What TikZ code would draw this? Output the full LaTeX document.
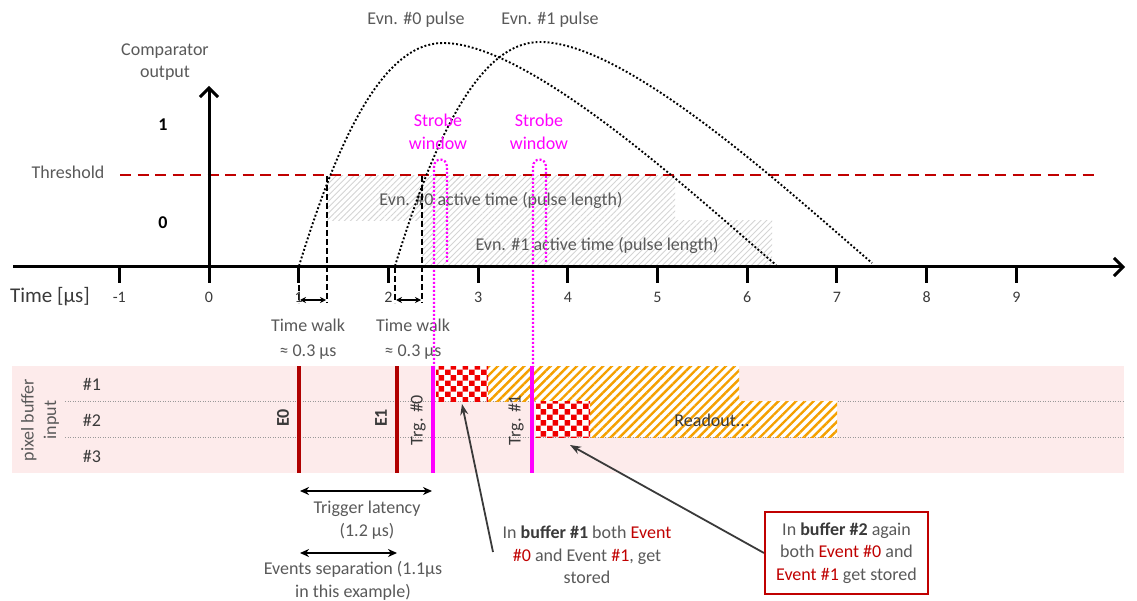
\documentclass[tikz,border=0pt]{standalone}
\usepackage{fontspec}
\setmainfont{Carlito}
\usetikzlibrary{arrows.meta,patterns.meta}

\definecolor{txt}{HTML}{595959}
\definecolor{darktxt}{HTML}{3A3A3A}
\definecolor{thr}{HTML}{C00000}
\definecolor{evline}{HTML}{B00000}
\definecolor{mag}{HTML}{FF00FF}
\definecolor{bufbg}{HTML}{FDEBEB}
\definecolor{hatchgray}{HTML}{D4D4D4}
\definecolor{readout}{HTML}{F5A000}
\definecolor{checkred}{HTML}{F00000}

% red/white checkerboard used for the stored-event cells
\tikzdeclarepattern{
  name=redcheck,
  type=uncolored,
  bottom left={(0pt,0pt)},
  top right={(11.4pt,11.4pt)},
  tile size={(11.4pt,11.4pt)},
  code={
    \fill (0pt,0pt) rectangle (5.7pt,5.7pt);
    \fill (5.7pt,5.7pt) rectangle (11.4pt,11.4pt);
  }
}

\begin{document}
\begin{tikzpicture}[x=1pt,y=-1pt,
  every node/.style={font=\fontsize{18}{22.5}\selectfont, text=txt, inner sep=0pt},
  lbl/.style={align=center},
  axisline/.style={line width=3pt, black},
  tickmark/.style={line width=3pt, black},
  ticklbl/.style={font=\fontsize{16}{19}\selectfont, text=darktxt},
  pulse/.style={line width=1.9pt, dash pattern=on 1.9pt off 2.1pt, black},
  walkline/.style={line width=1.6pt, dash pattern=on 6pt off 3pt, black},
  walkarrow/.style={line width=1.6pt, {Stealth[length=6pt,width=6pt]}-{Stealth[length=6pt,width=6pt]}},
  strobe/.style={line width=2.2pt, mag, dash pattern=on 2pt off 2pt},
  activebox/.style={pattern={Lines[angle=45,distance=4.2pt,line width=0.9pt]}, pattern color=hatchgray},
  thresholdline/.style={line width=2.6pt, thr, dash pattern=on 11pt off 6.5pt},
  rowsep/.style={line width=1pt, gray!80, dash pattern=on 1pt off 1.5pt},
  readcell/.style={preaction={fill=white}, pattern={Lines[angle=45,distance=6.2pt,line width=2.4pt]}, pattern color=readout},
  checkcell/.style={preaction={fill=white}, pattern=redcheck, pattern color=checkred},
  eventline/.style={line width=4pt, evline},
  trigline/.style={line width=4pt, mag},
  spanarrow/.style={line width=2.2pt, {Stealth[length=9pt,width=8pt]}-{Stealth[length=9pt,width=8pt]}},
  notearrow/.style={line width=1.8pt, darktxt, -{Stealth[length=11pt,width=8pt]}},
  notebox/.style={draw=thr, line width=2pt, minimum width=163pt, minimum height=82pt, align=center}
]
\useasboundingbox (0,0) rectangle (1137,601);

% ---------- active-time regions ----------
\fill[activebox] (422,221) rectangle (772,266);
\fill[activebox] (327,176) rectangle (675,221);
\node (act0) at (501,200) {Evn. \#0 active time (pulse length)};
\node (act1) at (597,245) {Evn. \#1 active time (pulse length)};

% ---------- threshold ----------
\coordinate (thrL) at (120,175);
\coordinate (thrR) at (1097,175);
\draw[thresholdline] (thrL) -- (thrR);
\node (thrlbl) at (68,172) {Threshold};

% ---------- analogue pulses ----------
\draw[pulse] (299,266) .. controls (335,149) and (380,43) .. (443,43)
  .. controls (530,43) and (693,194) .. (776,265);
\draw[pulse] (395,266) .. controls (431,149) and (476,42) .. (540,42)
  .. controls (627,42) and (789,192) .. (872,263);
\node (p0lbl) at (416,20) {Evn. \#0 pulse};
\node (p1lbl) at (550,20) {Evn. \#1 pulse};

% ---------- time walk ----------
\coordinate (tw0a) at (299,267); \coordinate (tw0b) at (299,303);
\coordinate (tw0c) at (327,176); \coordinate (tw0d) at (327,303);
\coordinate (tw1a) at (395,267); \coordinate (tw1b) at (395,303);
\coordinate (tw1c) at (422,176); \coordinate (tw1d) at (422,303);
\draw[walkline] (tw0a) -- (tw0b);
\draw[walkline] (tw0c) -- (tw0d);
\draw[walkline] (tw1a) -- (tw1b);
\draw[walkline] (tw1c) -- (tw1d);
\coordinate (tw0l) at (300,300); \coordinate (tw0r) at (326,300);
\coordinate (tw1l) at (396,300); \coordinate (tw1r) at (421,300);
\draw[walkarrow] (tw0l) -- (tw0r);
\draw[walkarrow] (tw1l) -- (tw1r);
\node[lbl, font=\fontsize{18}{25}\selectfont] (tw0lbl) at (308,339) {Time walk\\≈ 0.3 µs};
\node[lbl, font=\fontsize{18}{25}\selectfont] (tw1lbl) at (413,339) {Time walk\\≈ 0.3 µs};

% ---------- strobe windows ----------
\draw[strobe] (447,262) -- (447,167) .. controls (447,157) and (434,157) .. (434,167) -- (434,366);
\draw[strobe] (546,262) -- (546,167) .. controls (546,157) and (533,157) .. (533,167) -- (533,366);
\node[lbl, text=mag] (sw0) at (438,132) {Strobe\\window};
\node[lbl, text=mag] (sw1) at (539,132) {Strobe\\window};

% ---------- axes ----------
\coordinate (xstart) at (13,267);
\coordinate (xend) at (1125,267);
\coordinate (ystart) at (209,283);
\coordinate (yend) at (209,86);
\draw[axisline, -{Straight Barb[length=9pt,width=18pt]}] (xstart) -- (xend);
\draw[axisline, -{Straight Barb[length=9pt,width=18pt]}] (ystart) -- (yend);
\foreach \k/\t in {-1/-1,1/1,2/2,3/3,4/4,5/5,6/6,7/7,8/8,9/9}{
  \coordinate (tk\k) at ({209+89.7*\k},267);
  \coordinate (tb\k) at ({209+89.7*\k},283);
  \draw[tickmark] (tk\k) -- (tb\k);
}
\foreach \k in {-1,0,1,2,3,4,5,6,7,8,9}{
  \node[ticklbl] (tl\k) at ({209+89.7*\k},297) {\k};
}
\node[font=\fontsize{21}{24}\selectfont, text=darktxt] (timelbl) at (50,297) {Time [µs]};
\node[lbl] (complbl) at (165,62) {Comparator\\output};
\node[text=black] (one) at (163,125) {\textbf{1}};
\node[text=black] (zero) at (163,223) {\textbf{0}};

% ---------- pixel buffers ----------
\fill[bufbg] (12,366) rectangle (1124,473);
\coordinate (r1l) at (65,401); \coordinate (r1r) at (1124,401);
\coordinate (r2l) at (65,437); \coordinate (r2r) at (1124,437);
\draw[rowsep] (r1l) -- (r1r);
\draw[rowsep] (r2l) -- (r2r);
\node[lbl, rotate=90] (buflbl) at (40,420) {pixel buffer\\input};
\node[text=darktxt] (row1) at (92,384) {\#1};
\node[text=darktxt] (row2) at (92,420) {\#2};
\node[text=darktxt] (row3) at (92,456) {\#3};

\fill[readcell] (488,366) rectangle (739,401);
\fill[readcell] (590,401) rectangle (837,437);
\fill[checkcell] (436,366) rectangle (488,401);
\fill[checkcell] (536,401) rectangle (590,437);
\node[text=darktxt] (readlbl) at (712,420) {Readout...};

\coordinate (e0t) at (299,366); \coordinate (e0b) at (299,473);
\coordinate (e1t) at (397,366); \coordinate (e1b) at (397,473);
\coordinate (g0t) at (433,366); \coordinate (g0b) at (433,473);
\coordinate (g1t) at (532,366); \coordinate (g1b) at (532,473);
\draw[eventline] (e0t) -- (e0b);
\draw[eventline] (e1t) -- (e1b);
\draw[trigline] (g0t) -- (g0b);
\draw[trigline] (g1t) -- (g1b);
\node[rotate=90, text=darktxt] (e0lbl) at (283,418) {\textbf{E0}};
\node[rotate=90, text=darktxt] (e1lbl) at (381,418) {\textbf{E1}};
\node[rotate=90, text=darktxt] (g0lbl) at (418,420) {Trg. \#0};
\node[rotate=90, text=darktxt] (g1lbl) at (516,420) {Trg. \#1};

% ---------- latency and separation ----------
\coordinate (latL) at (300,491); \coordinate (latR) at (432,491);
\draw[spanarrow] (latL) -- (latR);
\node[lbl] (latlbl) at (367,520) {Trigger latency\\(1.2 µs)};
\coordinate (sepL) at (300,553); \coordinate (sepR) at (397,553);
\draw[spanarrow] (sepL) -- (sepR);
\node[lbl] (seplbl) at (353,581) {Events separation (1.1µs\\in this example)};

% ---------- notes ----------
\node[lbl] (note1) at (587,555) {In \textcolor{darktxt}{\textbf{buffer \#1}} both \textcolor{thr}{Event}\\
  \textcolor{thr}{\#0} and Event \textcolor{thr}{\#1}, get\\stored};
\coordinate (note1tail) at (493,552);
\coordinate (cell1) at (462,404);
\draw[notearrow] (note1tail) -- (cell1);

\node[notebox, fill=white] (note2) at (846.5,553) {In \textcolor{darktxt}{\textbf{buffer \#2}} again\\
  both \textcolor{thr}{Event \#0} and\\\textcolor{thr}{Event \#1} get stored};
\coordinate (cell2) at (570,445);
\draw[notearrow] (note2.west) -- (cell2);
\end{tikzpicture}
\end{document}
